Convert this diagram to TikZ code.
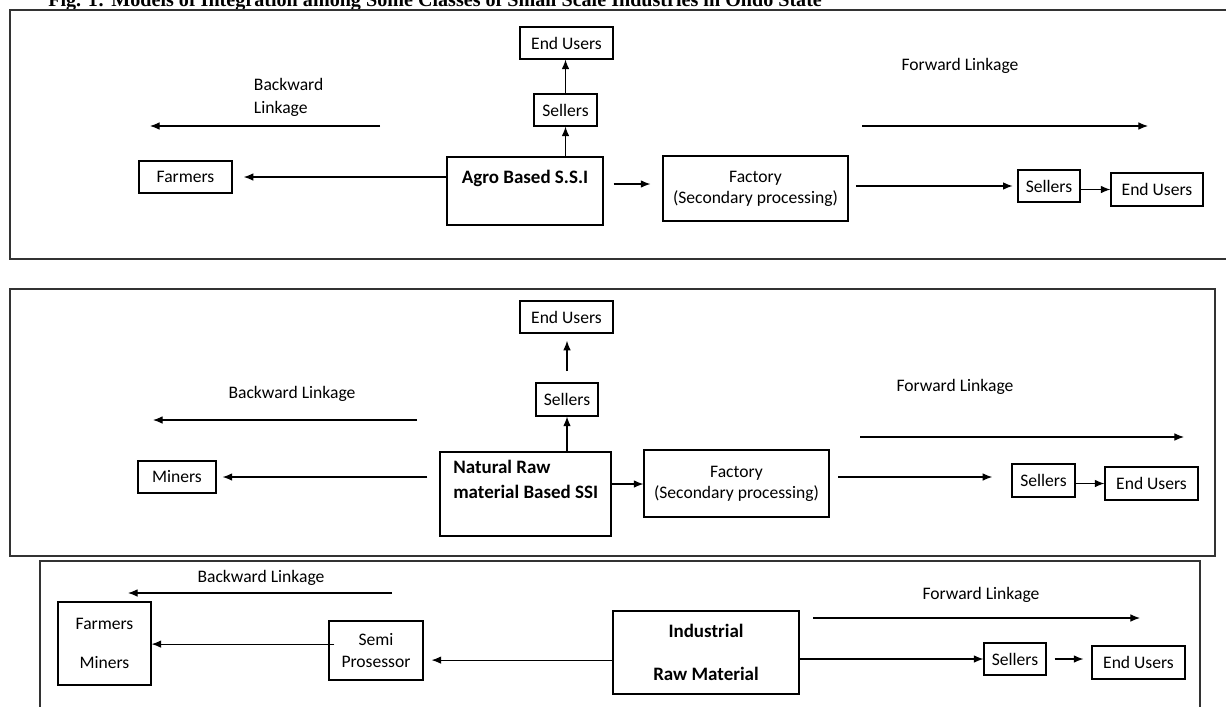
\documentclass[tikz,border=0pt]{standalone}
\usepackage{fontspec}
\setmainfont{Carlito}
\newfontfamily\titlefont{Liberation Serif}
\usetikzlibrary{arrows.meta}
\tikzset{>={Latex[length=2.4mm,width=1.9mm]}}
\tikzset{
  box/.style={draw, line width=0.8pt, inner sep=1pt},
  panel/.style={draw=black!80, line width=1.1pt},
  link/.style={->, line width=0.8pt},
  txt/.style={font=\fontsize{12.5}{15}\selectfont},
  btxt/.style={font=\bfseries\fontsize{13.5}{16}\selectfont}
}

\begin{document}
\begin{tikzpicture}[x=0.025cm, y=-0.025cm]
  \useasboundingbox (0,0) rectangle (1226,706);
  \node[anchor=base west, inner sep=0, font=\titlefont\bfseries\fontsize{14.3}{16}\selectfont]
    (title) at (48,6) {Fig. 1: Models of Integration among Some Classes of Small Scale Industries in Ondo State};
  % panels
  \draw[panel] (1240,10) -- (10,10) -- (10,259) -- (1240,259);
  \draw[panel] (10,289) rectangle (1215,556);
  \draw[panel] (40,720) -- (40,561) -- (1200,561) -- (1200,720);

  % 1
  \node[box, txt, minimum width=2.325cm, minimum height=0.8cm] (eu1) at (566.5,43) {End Users};
  \node[box, txt, minimum width=1.575cm, minimum height=0.8cm] (sel1) at (565.5,110) {Sellers};
  \node[box, minimum width=3.9cm, minimum height=1.7cm] (agro) at (525,191) {};
  \node[btxt] at (525,178) {Agro Based S.S.I};
  \node[box, txt, minimum width=2.325cm, minimum height=0.8cm] (farm1) at (185.5,177) {Farmers};
  \node[box, txt, align=center, minimum width=4.625cm, minimum height=1.625cm] (fac1) at (755.5,188.5) {Factory\\(Secondary processing)};
  \node[box, txt, minimum width=1.55cm, minimum height=0.8cm] (sel1b) at (1049,186) {Sellers};
  \node[box, txt, minimum width=2.3cm, minimum height=0.825cm] (eu1b) at (1157,189.5) {End Users};
  \node[txt, anchor=north west, align=left, font=\fontsize{12.5}{16.3}\selectfont] (back1) at (249,73) {Backward\\Linkage};
  \node[txt] (fwd1) at (960,66) {Forward Linkage};
  \coordinate (b1s) at (380,126);
  \coordinate (b1e) at (150,126);
  \coordinate (f1s) at (862,126);
  \coordinate (f1e) at (1148,126);
  \draw[link] (b1s) -- (b1e);
  \draw[link] (f1s) -- (f1e);
  \draw[link] (sel1.south |- agro.north) -- (sel1.south);
  \draw[link] (sel1.north) -- (sel1.north |- eu1.south);
  \draw[link, shorten >=0.28cm] (agro.west |- farm1.east) -- (farm1.east);
  \draw[link, shorten <=0.25cm, shorten >=0.3cm] (agro.east |- 0,184) -- (fac1.west |- 0,184);
  \draw[link, shorten <=0.18cm, shorten >=0.12cm] (fac1.east |- sel1b.west) -- (sel1b.west);
  \draw[link] (sel1b.east |- eu1b.west) -- (eu1b.west);

  % 2
  \node[box, txt, minimum width=2.325cm, minimum height=0.8cm] (eu2) at (566.5,317) {End Users};
  \node[box, txt, minimum width=1.55cm, minimum height=0.825cm] (sel2) at (567,399.5) {Sellers};
  \node[box, minimum width=4.275cm, minimum height=2.1cm] (nat) at (525.5,494) {};
  \node[btxt, anchor=north west, align=left, inner sep=0, font=\bfseries\fontsize{13.5}{17.7}\selectfont] at (453,460) {Natural Raw\\material Based SSI};
  \node[box, txt, minimum width=1.95cm, minimum height=0.8cm] (min2) at (177,477) {Miners};
  \node[box, txt, align=center, minimum width=4.625cm, minimum height=1.675cm] (fac2) at (736.5,483.5) {Factory\\(Secondary processing)};
  \node[box, txt, minimum width=1.575cm, minimum height=0.825cm] (sel2b) at (1043.5,480.5) {Sellers};
  \node[box, txt, minimum width=2.325cm, minimum height=0.825cm] (eu2b) at (1151.5,483.5) {End Users};
  \node[txt] (back2) at (292,394) {Backward Linkage};
  \node[txt] (fwd2) at (955,387) {Forward Linkage};
  \coordinate (b2s) at (417,420);
  \coordinate (b2e) at (153,420);
  \coordinate (f2s) at (860,437);
  \coordinate (f2e) at (1184,437);
  \draw[link] (b2s) -- (b2e);
  \draw[link] (f2s) -- (f2e);
  \draw[link] (sel2.south |- nat.north) -- (sel2.south);
  \draw[link, shorten <=0.28cm, shorten >=0.18cm] (sel2.north) -- (sel2.north |- eu2.south);
  \draw[link, shorten <=0.3cm, shorten >=0.15cm] (nat.west |- min2.east) -- (min2.east);
  \draw[link] (nat.east |- 0,484) -- (fac2.west |- 0,484);
  \draw[link, shorten <=0.22cm, shorten >=0.48cm] (fac2.east |- 0,477) -- (sel2b.west |- 0,477);
  \draw[link] (sel2b.east |- eu2b.west) -- (eu2b.west);

  % 3
  \node[box, txt, align=center, font=\fontsize{12.5}{28}\selectfont, minimum width=2.325cm, minimum height=2.075cm] (fm3) at (104.5,643.5) {Farmers\\Miners};
  \node[box, txt, align=center, font=\fontsize{12.5}{15}\selectfont, minimum width=2.35cm, minimum height=1.475cm] (semi) at (376,650.5) {Semi\\Prosessor};
  \node[box, btxt, align=center, font=\bfseries\fontsize{13.5}{30.5}\selectfont, minimum width=4.65cm, minimum height=2.075cm] (ind) at (706,652.5) {Industrial\\Raw Material};
  \node[box, txt, minimum width=1.55cm, minimum height=0.8cm] (sel3) at (1015,659) {Sellers};
  \node[box, txt, minimum width=2.325cm, minimum height=0.825cm] (eu3) at (1138.5,662.5) {End Users};
  \node[txt] (back3) at (261,578) {Backward Linkage};
  \node[txt] (fwd3) at (981,595) {Forward Linkage};
  \coordinate (b3s) at (392,593);
  \coordinate (b3e) at (128,593);
  \coordinate (f3s) at (813,618);
  \coordinate (f3e) at (1140,618);
  \draw[link] (b3s) -- (b3e);
  \draw[link] (f3s) -- (f3e);
  \coordinate (semiout) at ([xshift=0.15cm, yshift=0.16cm]semi.west);
  \draw[link] (semiout) -- (semiout -| fm3.east);
  \coordinate (indout) at ([yshift=-0.19cm]ind.west);
  \draw[link, shorten >=0.2cm] (indout) -- (indout -| semi.east);
  \draw[link] (ind.east |- sel3.west) -- (sel3.west);
  \draw[link, shorten <=0.2cm, shorten >=0.2cm] (sel3.east |- 0,659) -- (eu3.west |- 0,659);
\end{tikzpicture}
\end{document}
